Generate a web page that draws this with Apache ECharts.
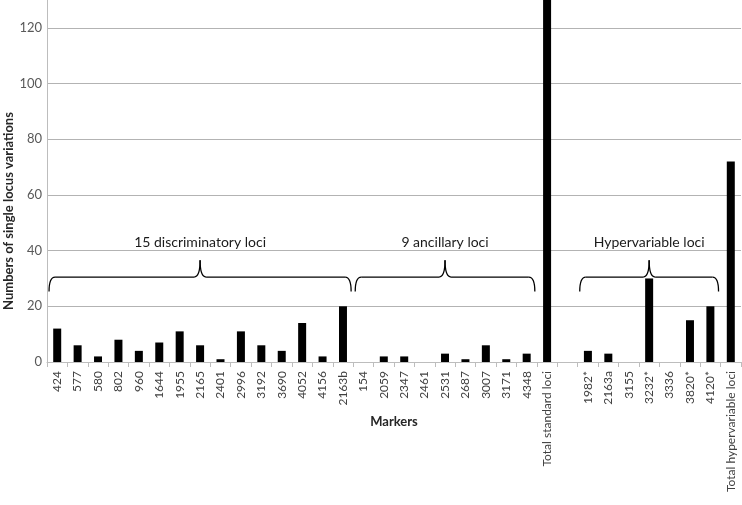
<!DOCTYPE html>
<html>
<head>
<meta charset="utf-8">
<script src="https://cdn.jsdelivr.net/npm/echarts@6/dist/echarts.min.js"></script>
<style>
  html, body { margin: 0; padding: 0; background: #fff; }
  #chart { width: 742px; height: 505px; }
</style>
</head>
<body>
<div id="chart"></div>
<script>
// markers, '' is the empty slot between the two groups
const markers = [
  "424", "577", "580", "802", "960", "1644", "1955", "2165", "2401", "2996",
  "3192", "3690", "4052", "4156", "2163b",
  "154", "2059", "2347", "2461", "2531", "2687", "3007", "3171", "4348",
  "Total standard loci", "",
  "1982*", "2163a", "3155", "3232*", "3336", "3820*", "4120*",
  "Total hypervariable loci"
];
const variations = [
  12, 6, 2, 8, 4, 7, 11, 6, 1, 11, 6, 4, 14, 2, 20,
  0, 2, 2, 0, 3, 1, 6, 1, 3,
  132, null,
  4, 3, 0, 30, 0, 15, 20,
  72
];
const yTicks = [0, 20, 40, 60, 80, 100, 120];
// brace groups: label, first and last marker index
const groups = [
  { label: "15 discriminatory loci", from: 0, to: 14 },
  { label: "9 ancillary loci", from: 15, to: 23 },
  { label: "Hypervariable loci", from: 26, to: 32 }
];

const font = "Lato, 'Open Sans', sans-serif";
const chart = echarts.init(document.getElementById("chart"));

chart.setOption({
  animation: false,
  grid: { left: 47, right: 1, top: 0, bottom: 143, containLabel: false, outerBoundsMode: "none" },
  xAxis: {
    type: "category",
    data: markers,
    name: "Markers",
    nameLocation: "middle",
    nameGap: 53,
    nameMoveOverlap: false,
    nameTextStyle: { fontFamily: font, fontSize: 13, fontWeight: "bold", color: "#262626" },
    axisLine: { lineStyle: { color: "#bdbdbd", width: 1 } },
    axisTick: { show: true, length: 5, lineStyle: { color: "#bdbdbd" } },
    axisLabel: {
      interval: 0,
      rotate: 90,
      margin: 9,
      fontFamily: font,
      fontSize: 12,
      color: "#404040"
    }
  },
  yAxis: {
    type: "value",
    min: 0,
    max: 130,
    interval: 20,
    axisLine: { show: true, lineStyle: { color: "#bdbdbd" } },
    axisTick: { show: false },
    axisLabel: {
      showMaxLabel: false,
      margin: 5,
      fontFamily: font,
      fontSize: 13,
      color: "#595959",
      formatter: v => (yTicks.indexOf(v) >= 0 ? v : "")
    },
    splitLine: { show: true, showMaxLine: false, lineStyle: { color: "#b3b3b3", width: 1 } }
  },
  series: [
    {
      type: "bar",
      data: variations,
      barWidth: 8,
      itemStyle: { color: "#000" }
    }
  ]
});

// braces and their labels, placed from the axes
function px(idx, val) {
  return chart.convertToPixel({ seriesIndex: 0 }, [idx, val]);
}
const elements = [];
const bw = px(1, 0)[0] - px(0, 0)[0];
groups.forEach(g => {
  const x0 = px(g.from, 0)[0] - 0.4 * bw;
  const x1 = px(g.to, 0)[0] + 0.4 * bw;
  const xm = (x0 + x1) / 2;
  const yEnd = px(0, 25.3)[1];
  const yH = px(0, 30.5)[1];
  const yPeak = px(0, 36.5)[1];
  const yText = px(0, 43)[1];
  const r = 6;
  const st = { stroke: "#000", lineWidth: 1.3, fill: null };
  elements.push(
    { type: "bezierCurve", shape: { x1: x0, y1: yEnd, x2: x0 + r, y2: yH, cpx1: x0, cpy1: yH }, style: st },
    { type: "line", shape: { x1: x0 + r, y1: yH, x2: xm - r, y2: yH }, style: st },
    { type: "bezierCurve", shape: { x1: xm - r, y1: yH, x2: xm, y2: yPeak, cpx1: xm, cpy1: yH }, style: st },
    { type: "bezierCurve", shape: { x1: xm + r, y1: yH, x2: xm, y2: yPeak, cpx1: xm, cpy1: yH }, style: st },
    { type: "line", shape: { x1: xm + r, y1: yH, x2: x1 - r, y2: yH }, style: st },
    { type: "bezierCurve", shape: { x1: x1, y1: yEnd, x2: x1 - r, y2: yH, cpx1: x1, cpy1: yH }, style: st },
    {
      type: "text",
      x: xm,
      y: yText,
      style: {
        text: g.label,
        fontFamily: font,
        fontSize: 14,
        fill: "#1a1a1a",
        textAlign: "center",
        textVerticalAlign: "middle"
      }
    }
  );
});
elements.push({
  type: "text",
  x: 9,
  y: 211,
  rotation: Math.PI / 2,
  style: {
    text: "Numbers of single locus variations",
    fontFamily: font,
    fontSize: 13,
    fontWeight: "bold",
    fill: "#262626",
    textAlign: "center",
    textVerticalAlign: "middle"
  }
});
chart.setOption({ graphic: { elements: elements } });
</script>
</body>
</html>
